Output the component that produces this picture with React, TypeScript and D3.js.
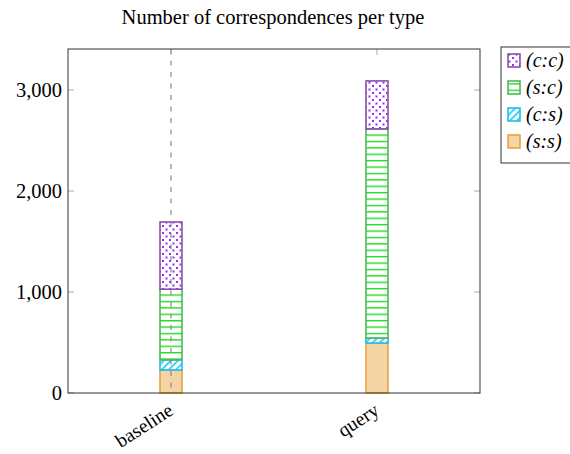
import React from "react";
import * as d3 from "d3";

const categories = ["baseline", "query"];
const seriesKeys = ["(s:s)", "(c:s)", "(s:c)", "(c:c)"];
const ssValues = [228, 495];
const csValues = [100, 50];
const scValues = [700, 2070];
const ccValues = [665, 475];
const yTicks = [0, 1000, 2000, 3000];
const legendOrder = ["(c:c)", "(s:c)", "(c:s)", "(s:s)"];

const styles: Record<string, { stroke: string; fill: string }> = {
  "(s:s)": { stroke: "#e8a33d", fill: "#f3d5a5" },
  "(c:s)": { stroke: "#19bfea", fill: "url(#pat-cs)" },
  "(s:c)": { stroke: "#4cb85a", fill: "url(#pat-sc)" },
  "(c:c)": { stroke: "#8c4fae", fill: "url(#pat-cc)" },
};

export default function App() {
  const W = 570, H = 454;
  const left = 68, right = 480, top = 49, bottom = 393;
  const x = d3.scalePoint<string>().domain(categories).range([left, right]).padding(0.5);
  const y = d3.scaleLinear().domain([0, 3406]).range([bottom, top]);
  const rows = categories.map((c, i) => ({
    cat: c,
    "(s:s)": ssValues[i],
    "(c:s)": csValues[i],
    "(s:c)": scValues[i],
    "(c:c)": ccValues[i],
  }));
  const stack = d3.stack<any>().keys(seriesKeys)(rows);
  const barW = 22;
  const fmt = d3.format(",");
  const serif = "'Liberation Serif', 'Times New Roman', serif";

  return (
    <svg width={W} height={H} style={{ position: "absolute", left: 0, top: 0 }}>
      <defs>
        <pattern id="pat-cc" patternUnits="userSpaceOnUse" width="7" height="7">
          <rect width="7" height="7" fill="white" />
          <rect x="1" y="1" width="2" height="2" fill="#9a2cf0" />
          <rect x="4.5" y="4.5" width="2" height="2" fill="#9a2cf0" />
        </pattern>
        <pattern id="pat-sc" patternUnits="userSpaceOnUse" width="6" height="6.4">
          <rect width="6" height="6.4" fill="white" />
          <rect x="0" y="0" width="6" height="1.4" fill="#22dd22" />
        </pattern>
        <pattern id="pat-cs" patternUnits="userSpaceOnUse" width="5" height="5" patternTransform="rotate(45)">
          <rect width="5" height="5" fill="white" />
          <rect x="0" y="0" width="1.6" height="5" fill="#22c8f0" />
        </pattern>
      </defs>

      <text x={273} y={24} textAnchor="middle" fontFamily={serif} fontSize={20.5}>
        Number of correspondences per type
      </text>

      {/* bars */}
      {stack.map((s) =>
        s.map((d, i) => {
          const cx = x(categories[i])!;
          const st = styles[s.key];
          return (
            <rect
              key={s.key + i}
              x={cx - barW / 2}
              y={y(d[1])}
              width={barW}
              height={y(d[0]) - y(d[1])}
              fill={st.fill}
              stroke={st.stroke}
              strokeWidth={1.6}
            />
          );
        })
      )}

      {/* dashed marker line */}
      <line
        x1={x("baseline")!}
        x2={x("baseline")!}
        y1={top}
        y2={bottom}
        stroke="#8a8a8a"
        strokeWidth={1.2}
        strokeDasharray="5,6.5"
      />

      {/* ticks */}
      {yTicks.map((t) => (
        <g key={t}>
          <line x1={left} x2={left + 6} y1={y(t)} y2={y(t)} stroke="#aaa" strokeWidth={1} />
          <line x1={right - 6} x2={right} y1={y(t)} y2={y(t)} stroke="#aaa" strokeWidth={1} />
          <text x={left - 6} y={y(t) + 6.5} textAnchor="end" fontFamily={serif} fontSize={20.5}>
            {fmt(t)}
          </text>
        </g>
      ))}
      {categories.map((c) => (
        <g key={c}>
          <line x1={x(c)!} x2={x(c)!} y1={top} y2={top + 6} stroke="#aaa" strokeWidth={1} />
          <text
            transform={`translate(${x(c)! - 4},${bottom + 9}) rotate(-33)`}
            textAnchor="end"
            fontFamily={serif}
            fontSize={19.5}
            dy="0.7em"
          >
            {c}
          </text>
        </g>
      ))}

      {/* frame */}
      <rect x={left} y={top} width={right - left} height={bottom - top} fill="none" stroke="#333" strokeWidth={1} />

      {/* legend */}
      <rect x={501} y={47} width={80} height={116} fill="white" stroke="#333" strokeWidth={1} />
      {legendOrder.map((k, i) => {
        const st = styles[k];
        const yy = 54 + i * 27;
        return (
          <g key={k}>
            <rect x={508} y={yy} width={12} height={13} fill={st.fill} stroke={st.stroke} strokeWidth={1.6} />
            <text x={526} y={yy + 13} fontFamily={serif} fontStyle="italic" fontSize={20}>
              {k}
            </text>
          </g>
        );
      })}
    </svg>
  );
}
